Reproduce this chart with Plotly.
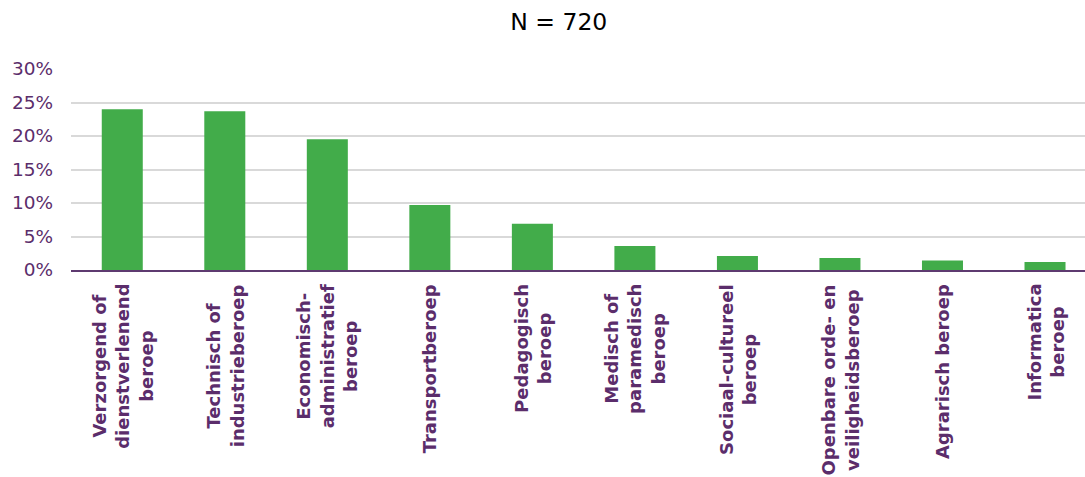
import plotly.graph_objects as go

# Occupation groups (labels wrapped over several lines) and their shares
categories = [
    "Verzorgend of<br>dienstverlenend<br>beroep",
    "Technisch of<br>industrieberoep",
    "Economisch-<br>administratief<br>beroep",
    "Transportberoep",
    "Pedagogisch<br>beroep",
    "Medisch of<br>paramedisch<br>beroep",
    "Sociaal-cultureel<br>beroep",
    "Openbare orde- en<br>veiligheidsberoep",
    "Agrarisch beroep",
    "Informatica<br>beroep",
]
shares = [0.240, 0.237, 0.195, 0.097, 0.069, 0.036, 0.021, 0.018, 0.014, 0.012]

y_ticks = [0, 0.05, 0.10, 0.15, 0.20, 0.25, 0.30]
y_ticklabels = ["0%", "5%", "10%", "15%", "20%", "25%", "30%"]

PURPLE = "#5b2d6b"
GREEN = "#42ac4a"
FONT = "DejaVu Sans, Verdana, sans-serif"

x_idx = list(range(len(categories)))

fig = go.Figure(
    go.Bar(
        x=x_idx,
        y=shares,
        width=0.4,
        marker=dict(color=GREEN, line=dict(width=0)),
        hoverinfo="skip",
    )
)

# Category labels: rotated, bold, lines centred on each other, hanging below the axis
for i, label in enumerate(categories):
    fig.add_annotation(
        x=i,
        xref="x",
        y=0,
        yref="paper",
        yanchor="top",
        xanchor="center",
        yshift=-12,
        text=f"<b>{label}</b>",
        textangle=-90,
        align="center",
        showarrow=False,
        font=dict(family=FONT, size=18, color=PURPLE),
    )

fig.update_layout(
    width=1085,
    height=477,
    margin=dict(l=71, r=0, t=69, b=207),
    paper_bgcolor="white",
    plot_bgcolor="white",
    showlegend=False,
    title=dict(
        text="N = 720",
        x=0.515,
        xref="container",
        xanchor="center",
        y=0.955,
        yref="container",
        yanchor="middle",
        font=dict(family=FONT, size=23.5, color="black"),
    ),
    xaxis=dict(
        range=[-0.5, 9.39],
        showticklabels=False,
        showgrid=False,
        zeroline=False,
        showline=True,
        linecolor="#5e3a70",
        linewidth=2,
        ticks="",
        fixedrange=True,
    ),
    yaxis=dict(
        range=[0, 0.30],
        tickvals=y_ticks,
        ticktext=y_ticklabels,
        showgrid=True,
        gridcolor="#d9d9d9",
        gridwidth=1.5,
        zeroline=False,
        showline=False,
        ticks="",
        ticklabelstandoff=17,
        tickfont=dict(family=FONT, size=18.5, color=PURPLE),
        fixedrange=True,
    ),
)

fig.write_html("out.html")
